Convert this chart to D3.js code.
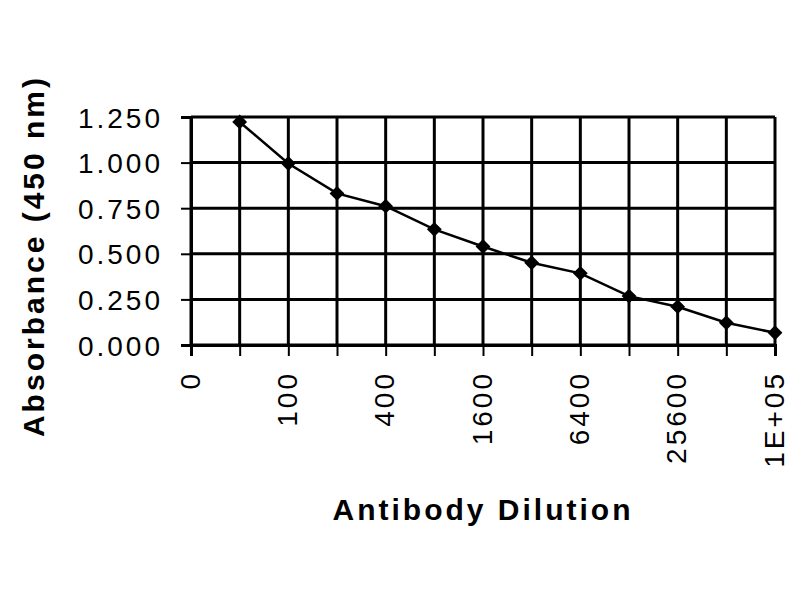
<!DOCTYPE html>
<html>
<head>
    <meta charset="utf-8" />
    <title>Antibody Dilution</title>
    <style>
        body { margin: 0; background: #fff; }
        text { font-family: Arial, "Liberation Sans", sans-serif; fill: #000; }
    </style>
</head>
<body>
    <div id="chart"></div>
    <script src="https://cdn.jsdelivr.net/npm/d3@7/dist/d3.min.js"></script>
    <script>
        // categories on the x axis (only every other one is labelled)
        var dilutions = ["0", "50", "100", "200", "400", "800", "1600", "3200", "6400", "12800", "25600", "51200", "1E+05"];
        var shownLabels = ["0", "100", "400", "1600", "6400", "25600", "1E+05"];
        // measured absorbance, first category has no value
        var pointDilutions = ["50", "100", "200", "400", "800", "1600", "3200", "6400", "12800", "25600", "51200", "1E+05"];
        var absorbance = [1.223, 0.995, 0.831, 0.761, 0.634, 0.540, 0.451, 0.393, 0.268, 0.210, 0.122, 0.067];
        var yTicks = [0, 0.25, 0.5, 0.75, 1.0, 1.25];

        var width = 800, height = 600;
        var plotLeft = 191, plotRight = 775, plotTop = 117, plotBottom = 345;

        var svg = d3.select("#chart").append("svg")
            .attr("width", width)
            .attr("height", height);

        var x = d3.scalePoint().domain(dilutions).range([plotLeft, plotRight]);
        var y = d3.scaleLinear().domain([0, 1.25]).range([plotBottom, plotTop]);

        // grid
        svg.append("g")
            .selectAll("line")
            .data(dilutions)
            .join("line")
            .attr("x1", d => x(d)).attr("x2", d => x(d))
            .attr("y1", plotTop).attr("y2", plotBottom)
            .attr("stroke", "#000").attr("stroke-width", 3);

        svg.append("g")
            .selectAll("line")
            .data(yTicks)
            .join("line")
            .attr("x1", plotLeft).attr("x2", plotRight)
            .attr("y1", d => y(d)).attr("y2", d => y(d))
            .attr("stroke", "#000").attr("stroke-width", 3);

        // y axis
        var yAxis = svg.append("g")
            .attr("transform", `translate(${plotLeft},0)`)
            .call(d3.axisLeft(y).tickValues(yTicks).tickFormat(d3.format(".3f")).tickSize(10).tickPadding(18));
        yAxis.select(".domain").attr("stroke-width", 3);
        yAxis.selectAll(".tick line").attr("stroke-width", 2);
        yAxis.selectAll("text")
            .attr("font-size", 28)
            .attr("letter-spacing", 3)
            .attr("dy", "0.36em");

        // x axis
        var xAxis = svg.append("g")
            .attr("transform", `translate(0,${plotBottom})`)
            .call(d3.axisBottom(x).tickSize(11).tickFormat(d => shownLabels.includes(d) ? d : ""));
        xAxis.select(".domain").attr("stroke-width", 3);
        xAxis.selectAll(".tick line").attr("stroke-width", 2);
        xAxis.selectAll("text")
            .attr("font-size", 28)
            .attr("letter-spacing", 3)
            .attr("text-anchor", "end")
            .attr("transform", "rotate(-90)")
            .attr("x", -26)
            .attr("y", -2)
            .attr("dy", "0.36em");

        // line + markers
        var pts = pointDilutions.map((d, i) => [x(d), y(absorbance[i])]);
        svg.append("path")
            .datum(pts)
            .attr("fill", "none")
            .attr("stroke", "#000")
            .attr("stroke-width", 2.5)
            .attr("d", d3.line());

        svg.append("g")
            .selectAll("path")
            .data(pts)
            .join("path")
            .attr("transform", d => `translate(${d[0]},${d[1]}) rotate(45)`)
            .attr("d", d3.symbol(d3.symbolSquare, 110))
            .attr("fill", "#000");

        // axis titles
        svg.append("text")
            .attr("x", 483).attr("y", 520)
            .attr("text-anchor", "middle")
            .attr("font-size", 30).attr("font-weight", "bold")
            .attr("letter-spacing", 3)
            .text("Antibody Dilution");

        svg.append("text")
            .attr("transform", "translate(44,256) rotate(-90)")
            .attr("text-anchor", "middle")
            .attr("font-size", 30).attr("font-weight", "bold")
            .attr("letter-spacing", 3)
            .text("Absorbance (450 nm)");
    </script>
</body>
</html>
